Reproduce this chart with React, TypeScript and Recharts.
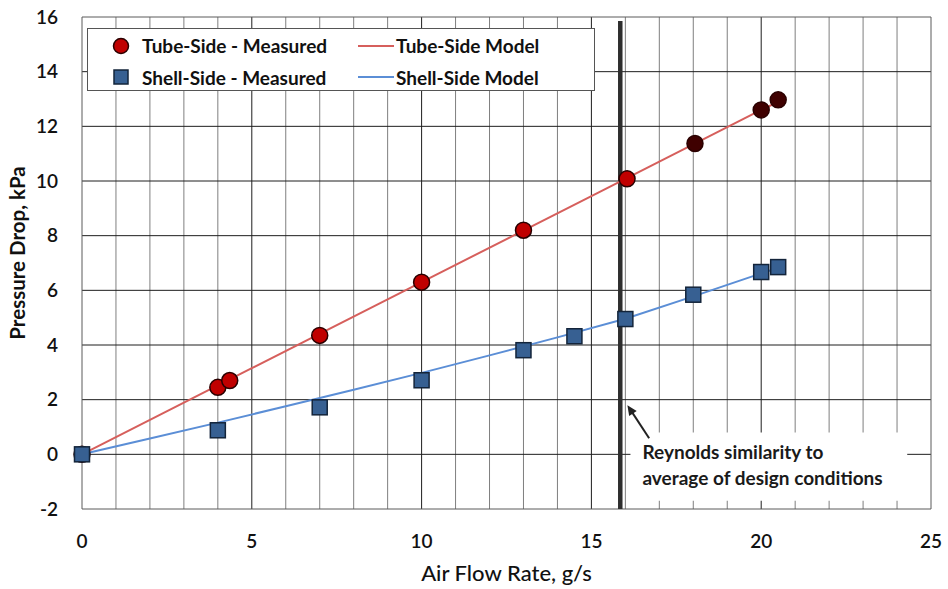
import {
  ScatterChart,
  Scatter,
  XAxis,
  YAxis,
  CartesianGrid,
  ReferenceLine,
  ReferenceArea,
  Legend,
  Cell,
} from "recharts";

// measured points
const tubeX = [0, 4, 4.35, 7, 10, 13, 16.05, 18.05, 20, 20.5];
const tubeY = [0, 2.45, 2.7, 4.35, 6.3, 8.2, 10.08, 11.37, 12.6, 12.97];
const shellX = [0, 4, 7, 10, 13, 14.5, 16, 18, 20, 20.5];
const shellY = [0, 0.88, 1.72, 2.71, 3.81, 4.32, 4.95, 5.84, 6.67, 6.85];

// model curves
const tubeModelX = [0, 5, 10, 15, 20, 20.5];
const tubeModelY = [0, 3.15, 6.3, 9.45, 12.6, 12.9];
const shellModelX = [0, 2, 4, 6, 8, 10, 12, 14, 16, 18, 20, 20.5];
const shellModelY = [0, 0.58, 1.16, 1.76, 2.36, 2.98, 3.62, 4.28, 4.96, 5.78, 6.62, 6.82];

const xTicks = [0, 5, 10, 15, 20, 25];
const yTicks = [-2, 0, 2, 4, 6, 8, 10, 12, 14, 16];
const xMinor = [1, 2, 3, 4, 6, 7, 8, 9, 11, 12, 13, 14, 16, 17, 18, 19, 21, 22, 23, 24];
const xMajorInner = [5, 10, 15, 20];
const yInner = [0, 2, 4, 6, 8, 10, 12, 14];

const designFlow = 15.85;
const noteLines = ["Reynolds similarity to", "average of design conditions"];

const legendItems = [
  { name: "Tube-Side - Measured", kind: "circle" },
  { name: "Tube-Side Model", kind: "redline" },
  { name: "Shell-Side - Measured", kind: "square" },
  { name: "Shell-Side Model", kind: "blueline" },
];

const zip = (xs: number[], ys: number[]) => xs.map((x, i) => ({ x, y: ys[i] }));

const tubeData = zip(tubeX, tubeY);
const shellData = zip(shellX, shellY);
const tubeModel = zip(tubeModelX, tubeModelY);
const shellModel = zip(shellModelX, shellModelY);

const RED = "#c00000";
const DARK_RED = "#3f0000";
const BLUE = "#376092";

const circleShape = (p: any) => (
  <circle cx={p.cx} cy={p.cy} r={8} fill={p.fill} stroke="#2a0000" strokeWidth={1.5} />
);
const squareShape = (p: any) => (
  <rect x={p.cx - 7.5} y={p.cy - 7.5} width={15} height={15} fill={BLUE} stroke="#13243a" strokeWidth={1.5} />
);
const noShape = () => <g />;

const arrowShape = (p: any) => {
  const { x1, y1, x2, y2 } = p;
  const a = Math.atan2(y2 - y1, x2 - x1);
  const L = 11;
  const w = 0.42;
  const pts = [
    [x2, y2],
    [x2 - L * Math.cos(a - w), y2 - L * Math.sin(a - w)],
    [x2 - L * Math.cos(a + w), y2 - L * Math.sin(a + w)],
  ]
    .map((q) => q.join(","))
    .join(" ");
  return (
    <g>
      <line x1={x1} y1={y1} x2={x2 - 6 * Math.cos(a)} y2={y2 - 6 * Math.sin(a)} stroke="#222" strokeWidth={2} />
      <polygon points={pts} fill="#222" />
    </g>
  );
};

const noteLabel = (props: any) => {
  const vb = props.viewBox;
  return (
    <text x={vb.x + 12} y={vb.y + 27} fontSize={19} fontWeight={700} fill="#1a1a1a">
      {noteLines.map((t, i) => (
        <tspan key={i} x={vb.x + 12} dy={i === 0 ? 0 : 26}>
          {t}
        </tspan>
      ))}
    </text>
  );
};

const yLabel = (props: any) => {
  const vb = props.viewBox;
  const cx = vb.x + 17;
  const cy = vb.y + vb.height / 2 - 10;
  return (
    <text
      x={cx}
      y={cy}
      transform={`rotate(-90, ${cx}, ${cy})`}
      textAnchor="middle"
      dominantBaseline="central"
      fontSize={20.5}
      fontWeight={700}
      fill="#111"
    >
      Pressure Drop, kPa
    </text>
  );
};

const LegendBox = () => (
  <div
    style={{
      width: 508,
      height: 63,
      background: "#fff",
      border: "1px solid #555",
      display: "grid",
      gridTemplateColumns: "268px 240px",
      gridTemplateRows: "33px 30px",
      alignItems: "center",
      fontSize: 19,
      fontWeight: 700,
      color: "#111",
      boxSizing: "border-box",
      whiteSpace: "nowrap",
    }}
  >
    {legendItems.map((it) => (
      <div key={it.name} style={{ display: "flex", alignItems: "center" }}>
        {it.kind === "circle" && (
          <svg width={54} height={20}>
            <circle cx={33} cy={10} r={7.5} fill={RED} stroke="#2a0000" strokeWidth={1.5} />
          </svg>
        )}
        {it.kind === "square" && (
          <svg width={54} height={20}>
            <rect x={26} y={3} width={14} height={14} fill={BLUE} stroke="#13243a" strokeWidth={1.5} />
          </svg>
        )}
        {(it.kind === "redline" || it.kind === "blueline") && (
          <svg width={40} height={20}>
            <line x1={2} y1={10} x2={38} y2={10} stroke={it.kind === "redline" ? "#d65f5c" : "#5b8ed6"} strokeWidth={2} />
          </svg>
        )}
        <span>{it.name}</span>
      </div>
    ))}
  </div>
);

export default function App() {
  return (
    <div style={{ position: "absolute", left: 0, top: 0, fontFamily: "Lato, 'Open Sans', sans-serif", background: "#fff" }}>
      <ScatterChart width={948} height={589} margin={{ top: 17, right: 17, bottom: 0, left: 0 }}>
        <CartesianGrid horizontal={false} verticalValues={xMinor} stroke="#7f7f7f" />
        <CartesianGrid horizontalValues={yInner} verticalValues={xMajorInner} stroke="#1e1e1e" />
        <CartesianGrid horizontalValues={[-2, 16]} verticalValues={[0, 25]} stroke="#5a5a5a" />
        <XAxis
          type="number"
          dataKey="x"
          domain={[0, 25]}
          ticks={xTicks}
          tickLine={false}
          axisLine={false}
          tickMargin={20}
          height={80}
          tick={{ fontSize: 19, fill: "#111", fontWeight: 600 }}
          label={{ value: "Air Flow Rate, g/s", position: "insideBottom", offset: 8, fontSize: 22, fontWeight: 500, fill: "#111" }}
        />
        <YAxis
          type="number"
          dataKey="y"
          domain={[-2, 16]}
          ticks={yTicks}
          tickLine={false}
          axisLine={false}
          tickMargin={18}
          width={82}
          tick={{ fontSize: 19, fill: "#111", fontWeight: 600 }}
          label={yLabel}
        />
        <ReferenceArea x1={16.15} x2={24.3} y1={-1.7} y2={0.8} fill="#fff" fillOpacity={1} stroke="none" label={noteLabel} />
        <ReferenceLine
          segment={[
            { x: designFlow, y: 15.85 },
            { x: designFlow, y: -2 },
          ]}
          stroke="#2e2e2e"
          strokeWidth={4.5}
        />
        <ReferenceLine
          segment={[
            { x: 16.7, y: 0.59 },
            { x: 16.06, y: 1.8 },
          ]}
          shape={arrowShape}
        />
        <Scatter data={tubeModel} line={{ stroke: "#d65f5c", strokeWidth: 2 }} shape={noShape} isAnimationActive={false} />
        <Scatter data={shellModel} line={{ stroke: "#5b8ed6", strokeWidth: 2 }} shape={noShape} isAnimationActive={false} />
        <Scatter data={tubeData} shape={circleShape} isAnimationActive={false}>
          {tubeData.map((_, i) => (
            <Cell key={i} fill={i >= 7 ? DARK_RED : RED} />
          ))}
        </Scatter>
        <Scatter data={shellData} shape={squareShape} isAnimationActive={false} />
        <Legend
          layout="vertical"
          align="center"
          verticalAlign="middle"
          content={() => <LegendBox />}
          wrapperStyle={{ left: 87, top: 28, width: 510, height: 65 }}
        />
      </ScatterChart>
    </div>
  );
}
